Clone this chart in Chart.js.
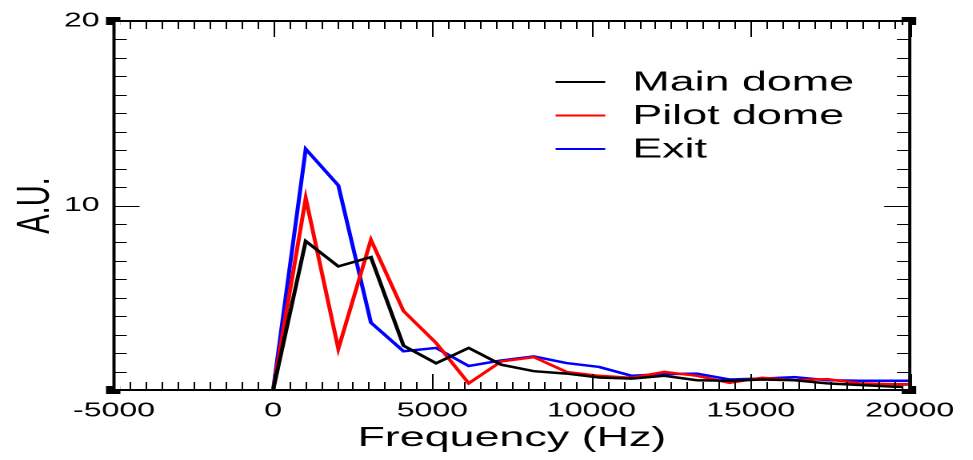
<!DOCTYPE html>
<html>
<head>
<meta charset="utf-8">
<title>A.U. vs Frequency</title>
<script src="https://cdn.jsdelivr.net/npm/chart.js@4/dist/chart.umd.min.js"></script>
<style>
    html, body { margin: 0; padding: 0; background: #fff; overflow: hidden; }
    /* the reference is stretched sideways, so draw narrow and widen */
    #wrap { width: 608px; height: 460px; transform: scaleX(1.6); transform-origin: 0 0; }
</style>
</head>
<body>
<div id="wrap"><canvas id="chart" width="608" height="460" style="width:608px;height:460px"></canvas></div>
<script>
// ─── Data ────────────────────────────────────────────────────────────────
const freqHz = [0, 1024, 2048, 3072, 4096, 5120, 6144, 7168, 8192, 9216, 10240,
    11264, 12288, 13312, 14336, 15360, 16384, 17408, 18432, 19456, 20480];
const mainDome = [0, 8.07, 6.7, 7.2, 2.4, 1.45, 2.28, 1.37, 1.02, 0.89, 0.68,
    0.62, 0.77, 0.53, 0.5, 0.57, 0.53, 0.36, 0.27, 0.18, 0.15];
const pilotDome = [0, 10.4, 2.23, 8.14, 4.28, 2.55, 0.36, 1.55, 1.78, 0.98, 0.77,
    0.66, 0.98, 0.77, 0.39, 0.66, 0.53, 0.59, 0.36, 0.32, 0.32];
const exitPort = [0, 13.06, 11.09, 3.65, 2.1, 2.28, 1.3, 1.6, 1.82, 1.46, 1.25,
    0.77, 0.86, 0.89, 0.57, 0.62, 0.7, 0.53, 0.5, 0.5, 0.5];

const seriesNames = ['Main dome', 'Pilot dome', 'Exit'];
const seriesColors = ['#000000', '#ff0000', '#0000ff'];

const xTicks = [-5000, 0, 5000, 10000, 15000, 20000];
const yTicks = [10, 20];

const FONT = "'Liberation Sans', Arial, Helvetica, sans-serif";

// ─── Frame, inward ticks and in-plot legend ──────────────────────────────
const framePlugin = {
    id: 'frame',
    afterDatasetsDraw(chart) {
        const { ctx, chartArea: a, scales: { x, y } } = chart;
        ctx.save();
        ctx.strokeStyle = '#000';

        // minor + major ticks, drawn inwards on all four sides
        ctx.lineWidth = 1;
        for (let v = x.min; v <= x.max; v += 500) {
            const px = Math.round(x.getPixelForValue(v)) + 0.5;
            const len = v % 5000 === 0 ? 16 : 8;
            ctx.beginPath();
            ctx.moveTo(px, a.bottom); ctx.lineTo(px, a.bottom - len);
            ctx.moveTo(px, a.top); ctx.lineTo(px, a.top + len);
            ctx.stroke();
        }
        for (let v = y.min; v <= y.max; v += 1) {
            const py = Math.round(y.getPixelForValue(v)) + 0.5;
            const len = v % 10 === 0 ? 16 : 8;
            ctx.beginPath();
            ctx.moveTo(a.left, py); ctx.lineTo(a.left + len, py);
            ctx.moveTo(a.right, py); ctx.lineTo(a.right - len, py);
            ctx.stroke();
        }

        // frame
        ctx.lineWidth = 2;
        ctx.strokeRect(a.left, a.top, a.right - a.left, a.bottom - a.top);

        // little corner markers
        [[a.left, a.top], [a.right, a.top], [a.left, a.bottom], [a.right, a.bottom]].forEach(([cx, cy]) => {
            ctx.fillStyle = '#000';
            ctx.fillRect(cx - 5, cy - 4, 9, 8);
            ctx.fillStyle = '#fff';
            const dx = cx === a.left ? 1 : -4;
            const dy = cy === a.top ? 1 : -4;
            ctx.fillRect(cx + dx, cy + dy, 3, 3);
        });

        // legend inside the plot
        const lx = a.left + 276;
        ctx.font = `28px ${FONT}`;
        ctx.textBaseline = 'middle';
        ctx.textAlign = 'left';
        chart.data.datasets.forEach((ds, i) => {
            const ly = a.top + 61 + i * 33.5;
            ctx.strokeStyle = ds.borderColor;
            ctx.lineWidth = 2;
            ctx.beginPath();
            ctx.moveTo(lx, ly); ctx.lineTo(lx + 31, ly);
            ctx.stroke();
            ctx.fillStyle = '#000';
            ctx.fillText(ds.label, lx + 48, ly + 1);
        });
        ctx.restore();
    }
};

const toPoints = vals => vals.map((v, i) => ({ x: freqHz[i], y: v }));

new Chart(document.getElementById('chart').getContext('2d'), {
    type: 'line',
    data: {
        datasets: [mainDome, pilotDome, exitPort].map((vals, i) => ({
            label: seriesNames[i],
            data: toPoints(vals),
            borderColor: seriesColors[i],
            backgroundColor: seriesColors[i],
            borderWidth: 2.5,
            pointRadius: 0,
            tension: 0,
            fill: false
        }))
    },
    options: {
        responsive: false,
        maintainAspectRatio: false,
        animation: false,
        devicePixelRatio: 2,
        layout: { padding: { top: 16, right: 39.4, left: 0, bottom: 0 } },
        plugins: {
            legend: { display: false },
            tooltip: { enabled: false }
        },
        scales: {
            x: {
                type: 'linear',
                min: -5000,
                max: 20000,
                grid: { display: false, drawTicks: false },
                border: { display: false },
                afterBuildTicks: s => { s.ticks = xTicks.map(v => ({ value: v })); },
                afterFit: s => { s.height = 70; },
                ticks: {
                    autoSkip: false,
                    maxRotation: 0,
                    padding: 9,
                    color: '#000',
                    font: { family: FONT, size: 20 },
                    callback: v => String(v)
                },
                title: {
                    display: true,
                    text: 'Frequency (Hz)',
                    color: '#000',
                    font: { family: FONT, size: 28, lineHeight: 1.2 },
                    padding: { top: 0, bottom: 5 }
                }
            },
            y: {
                type: 'linear',
                min: 0,
                max: 20,
                grid: { display: false, drawTicks: false },
                border: { display: false },
                afterBuildTicks: s => { s.ticks = yTicks.map(v => ({ value: v })); },
                afterFit: s => { s.width = 71.25; },
                ticks: {
                    padding: 9,
                    color: '#000',
                    font: { family: FONT, size: 20 },
                    callback: v => String(v)
                },
                title: {
                    display: true,
                    text: 'A.U.',
                    color: '#000',
                    font: { family: FONT, size: 29, lineHeight: 1.2 },
                    padding: { top: 5, bottom: 0 }
                }
            }
        }
    },
    plugins: [framePlugin]
});
</script>
</body>
</html>
